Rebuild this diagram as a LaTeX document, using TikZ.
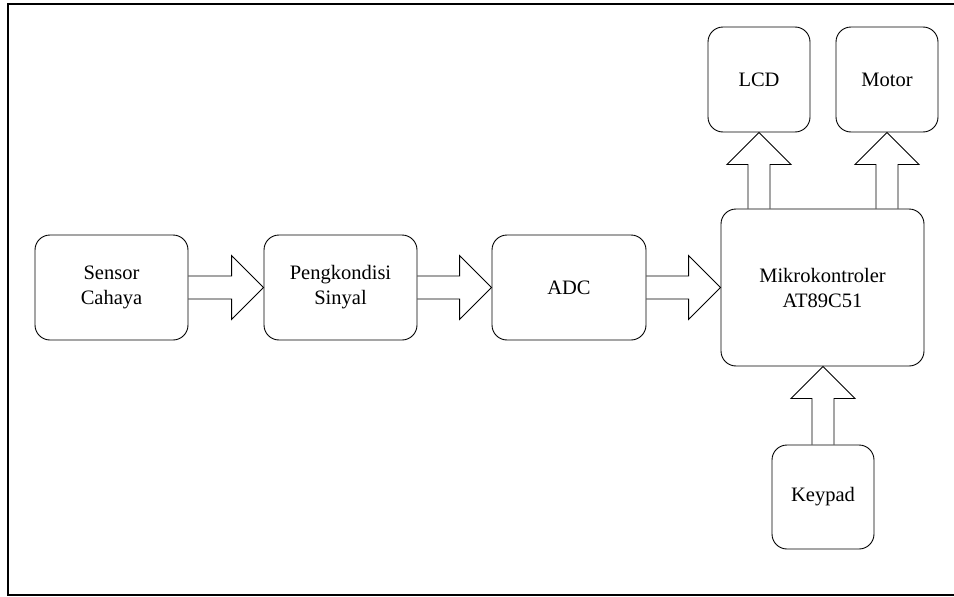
\documentclass[tikz,border=0pt]{standalone}
\usepackage{fontspec}
\setmainfont{Liberation Serif}
\usetikzlibrary{calc}
\tikzset{
  blk/.style={draw, line width=0.9pt, rounded corners=15pt, align=center, inner sep=0pt, font=\fontsize{20.5}{25}\selectfont},
  barrow/.style={draw, line width=0.9pt, line join=miter},
  frame/.style={draw, line width=1.6pt}
}
\newcommand\blockarrowH[2]{%
  \path[barrow] ($(#1.east)+(0,11.5pt)$) -- ($(#2.west)+(-32pt,11.5pt)$) -- ($(#2.west)+(-32pt,32pt)$) -- (#2.west) -- ($(#2.west)+(-32pt,-32pt)$) -- ($(#2.west)+(-32pt,-11.5pt)$) -- ($(#1.east)+(0,-11.5pt)$);}
\newcommand\blockarrowUp[2]{%
  \path[barrow] ($(#2)+(-11pt,0)$) -- ($(#1)+(-11pt,-32pt)$) -- ($(#1)+(-32pt,-32pt)$) -- (#1) -- ($(#1)+(32pt,-32pt)$) -- ($(#1)+(11pt,-32pt)$) -- ($(#2)+(11pt,0)$);}
\begin{document}
\begin{tikzpicture}[x=1pt,y=-1pt]
\useasboundingbox (0,0) rectangle (954,597);
% outer frame (right side beyond the picture)
\coordinate (ftr) at (960,4);
\coordinate (ftl) at (8,4);
\coordinate (fbl) at (8,595);
\coordinate (fbr) at (960,595);
\path[frame] (ftr) -- (ftl) -- (fbl) -- (fbr);

\node[blk, minimum width=153pt, minimum height=105pt] (sensor) at (111.5,287.5) {Sensor\\Cahaya};
\node[blk, minimum width=153pt, minimum height=105pt] (peng) at (340.5,287.5) {Pengkondisi\\Sinyal};
\node[blk, minimum width=154pt, minimum height=105pt] (adc) at (569,287.5) {ADC};
\node[blk, minimum width=203pt, minimum height=157pt] (mikro) at (822.5,287.5) {Mikrokontroler\\AT89C51};
\node[blk, minimum width=102pt, minimum height=105pt] (lcd) at (759,79.5) {LCD};
\node[blk, minimum width=102pt, minimum height=105pt] (motor) at (887,79.5) {Motor};
\node[blk, minimum width=102pt, minimum height=104pt] (keypad) at (823,497) {Keypad};

\blockarrowH{sensor}{peng}
\blockarrowH{peng}{adc}
\blockarrowH{adc}{mikro}

\coordinate (lcdbase) at (lcd.south |- mikro.north);
\coordinate (motorbase) at (motor.south |- mikro.north);
\coordinate (keytip) at (keypad.north |- mikro.south);
\blockarrowUp{lcd.south}{lcdbase}
\blockarrowUp{motor.south}{motorbase}
\blockarrowUp{keytip}{keypad.north}
\end{tikzpicture}
\end{document}
